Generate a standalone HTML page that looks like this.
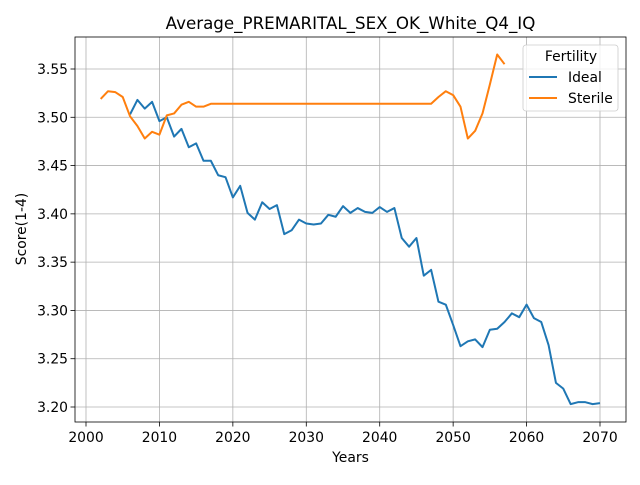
<!DOCTYPE html>
<html><head><meta charset="utf-8"><style>
body{margin:0;background:#fff;font-family:"Liberation Sans","DejaVu Sans",sans-serif}
svg text{font-family:"DejaVu Sans","Liberation Sans",sans-serif}
</style></head><body>
<svg id="c" width="640" height="480" xmlns="http://www.w3.org/2000/svg"></svg>
<script>
const xTicks=[2000,2010,2020,2030,2040,2050,2060,2070];
const yTicks=[3.20,3.25,3.30,3.35,3.40,3.45,3.50,3.55];
const idealYears=[];for(let y=2006;y<=2070;y++)idealYears.push(y);
const idealValues=[3.503,3.518,3.509,3.516,3.496,3.500,3.480,3.488,3.469,3.473,3.455,3.455,3.440,3.438,3.417,3.429,3.401,3.394,3.412,3.405,3.409,3.379,3.383,3.394,3.390,3.389,3.390,3.399,3.397,3.408,3.401,3.406,3.402,3.401,3.407,3.402,3.406,3.375,3.366,3.375,3.336,3.342,3.309,3.306,3.285,3.263,3.268,3.270,3.262,3.280,3.281,3.288,3.297,3.293,3.306,3.292,3.288,3.264,3.225,3.219,3.203,3.205,3.205,3.203,3.204];
const sterileYears=[];for(let y=2002;y<=2057;y++)sterileYears.push(y);
const sterileValues=[3.519,3.527,3.526,3.521,3.501,3.491,3.478,3.485,3.482,3.502,3.504,3.513,3.516,3.511,3.511,3.514,3.514,3.514,3.514,3.514,3.514,3.514,3.514,3.514,3.514,3.514,3.514,3.514,3.514,3.514,3.514,3.514,3.514,3.514,3.514,3.514,3.514,3.514,3.514,3.514,3.514,3.514,3.514,3.514,3.514,3.514,3.521,3.527,3.523,3.511,3.478,3.486,3.504,3.534,3.565,3.555];
const L=75,R=626,T=37,B=422;
const X=v=>86+(v-2000)*(600-86)/70;
const Y=v=>407-(v-3.20)*(407-69)/0.35;
const svg=document.getElementById('c');const NS='http://www.w3.org/2000/svg';
function el(t,a,p){const e=document.createElementNS(NS,t);for(const k in a)e.setAttribute(k,a[k]);(p||svg).appendChild(e);return e;}
for(const t of xTicks){
 const g=el('line',{x1:X(t),x2:X(t),y1:T,y2:B,stroke:'#b0b0b0','stroke-width':0.8});
 
 
 el('line',{x1:X(t),x2:X(t),y1:B,y2:B+4.5,stroke:'#000','stroke-width':0.8});
 const tx=el('text',{x:X(t),y:442,'text-anchor':'middle','font-size':13.9});tx.textContent=t;
 
 
}
for(const t of yTicks){
 const g=el('line',{x1:L,x2:R,y1:Y(t),y2:Y(t),stroke:'#b0b0b0','stroke-width':0.8});
 
 
 el('line',{x1:L-4.5,x2:L,y1:Y(t),y2:Y(t),stroke:'#000','stroke-width':0.8});
 const tx=el('text',{x:L-7,y:Y(t)+5,'text-anchor':'end','font-size':13.9});tx.textContent=t.toFixed(2);
 
 
}
function line(xs,ys,c,name){
 const p=el('polyline',{points:xs.map((x,i)=>X(x)+','+Y(ys[i])).join(' '),fill:'none',stroke:c,'stroke-width':2,'stroke-linejoin':'round'});
 
 
}
line(idealYears,idealValues,'#1f77b4','ideal-line');
line(sterileYears,sterileValues,'#ff7f0e','sterile-line');
const fr=el('rect',{x:L,y:T,width:R-L,height:B-T,fill:'none',stroke:'#000','stroke-width':0.8});


const ti=el('text',{x:(L+R)/2,y:29,'text-anchor':'middle','font-size':16.7});ti.textContent='Average_PREMARITAL_SEX_OK_White_Q4_IQ';


const xl=el('text',{x:(L+R)/2,y:462,'text-anchor':'middle','font-size':13.9});xl.textContent='Years';


const yl=el('text',{x:0,y:0,'text-anchor':'middle','font-size':13.9,transform:'translate(26,229) rotate(-90)'});yl.textContent='Score(1-4)';


const lg=el('g',{});


el('rect',{x:523,y:45,width:95,height:66,rx:3,fill:'#fff','fill-opacity':0.8,stroke:'#ccc','stroke-width':0.8},lg);
const lt=el('text',{x:571,y:61,'text-anchor':'middle','font-size':13.9},lg);lt.textContent='Fertility';
const e1=el('g',{},lg);


el('line',{x1:529,x2:557,y1:77,y2:77,stroke:'#1f77b4','stroke-width':2},e1);
const t1=el('text',{x:568,y:82,'font-size':13.9},e1);t1.textContent='Ideal';
const e2=el('g',{},lg);


el('line',{x1:529,x2:557,y1:98,y2:98,stroke:'#ff7f0e','stroke-width':2},e2);
const t2=el('text',{x:568,y:103,'font-size':13.9},e2);t2.textContent='Sterile';
</script>
</body></html>
